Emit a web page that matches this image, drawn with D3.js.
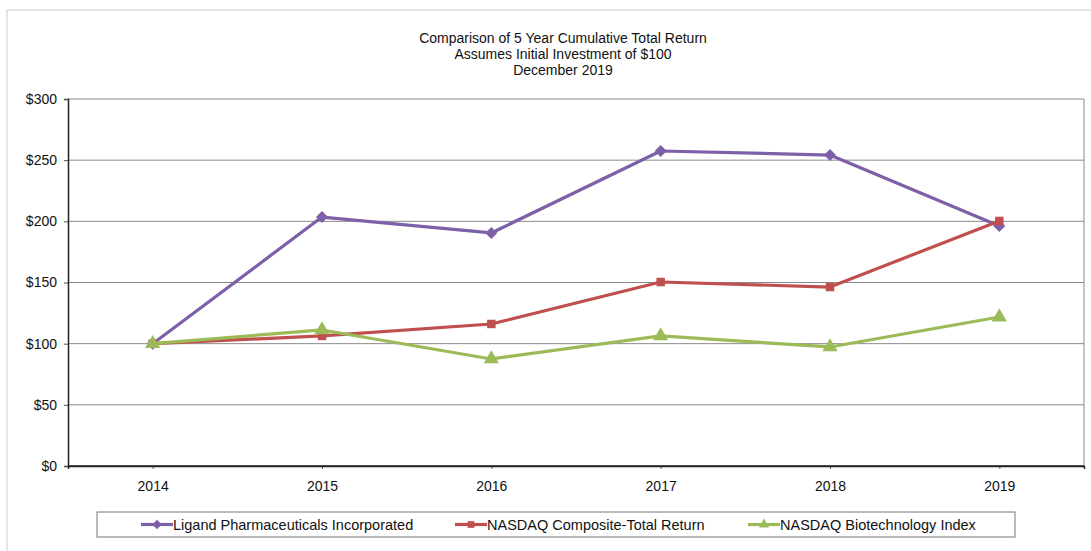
<!DOCTYPE html>
<html>
<head>
<meta charset="utf-8">
<script src="https://cdn.jsdelivr.net/npm/d3@7.9.0/dist/d3.min.js"></script>
<style>
  body { margin: 0; background: #fff; }
  svg { font-family: "Liberation Sans", Arial, sans-serif; }
</style>
</head>
<body>
<svg width="1091" height="551"></svg>
<script>
const years = ['2014', '2015', '2016', '2017', '2018', '2019'];
const ligand = [100, 203.5, 190.5, 257.5, 254.2, 196.2];
const nasdaqComposite = [100, 106.3, 116.1, 150.4, 146.3, 200.3];
const nasdaqBiotech = [100, 111.2, 87.5, 106.3, 97.3, 121.8];
const yTicks = [0, 50, 100, 150, 200, 250, 300];
const titleLines = ['Comparison of 5 Year Cumulative Total Return', 'Assumes Initial Investment of $100', 'December 2019'];

const series = [
  { name: 'Ligand Pharmaceuticals Incorporated', values: ligand, color: '#7D60A8', symbol: d3.symbolSquare, rotate: 45 },
  { name: 'NASDAQ Composite-Total Return', values: nasdaqComposite, color: '#C0504D', symbol: d3.symbolSquare, rotate: 0 },
  { name: 'NASDAQ Biotechnology Index', values: nasdaqBiotech, color: '#9BBB59', symbol: d3.symbolTriangle, rotate: 0 },
];

const svg = d3.select('svg');
const plot = { left: 68, top: 99, right: 1084, bottom: 466 };

// spreadsheet frame remnants
svg.append('line').attr('x1', 7).attr('x2', 1091).attr('y1', 10).attr('y2', 10).attr('stroke', '#ccc');
svg.append('line').attr('x1', 7).attr('x2', 7).attr('y1', 10).attr('y2', 551).attr('stroke', '#ccc');

const x = d3.scalePoint().domain(years).range([plot.left, plot.right]).padding(0.5);
const y = d3.scaleLinear().domain([0, 300]).range([plot.bottom, plot.top]);

// title
svg.append('g').selectAll('text').data(titleLines).join('text')
  .attr('x', 563).attr('y', (d, i) => 43 + i * 16)
  .attr('text-anchor', 'middle').attr('font-size', 14).attr('fill', '#111')
  .text((d) => d);

// gridlines
svg.append('g').selectAll('line').data(yTicks.filter((d) => d > 0)).join('line')
  .attr('x1', plot.left).attr('x2', plot.right)
  .attr('y1', (d) => y(d)).attr('y2', (d) => y(d))
  .attr('stroke', '#8a8a8a').attr('stroke-width', 1);

svg.append('line').attr('x1', plot.right).attr('x2', plot.right)
  .attr('y1', plot.top).attr('y2', plot.bottom).attr('stroke', '#8a8a8a');

// axes
const yAxis = svg.append('g').attr('transform', `translate(${plot.left},0)`)
  .call(d3.axisLeft(y).tickValues(yTicks).tickFormat((d) => '$' + d).tickSize(4).tickPadding(7));
const xAxis = svg.append('g').attr('transform', `translate(0,${plot.bottom})`)
  .call(d3.axisBottom(x).tickSize(3).tickPadding(12));
xAxis.append('line').attr('x1', plot.left).attr('x2', plot.right).attr('stroke', '#222').attr('stroke-width', 1.5);
[yAxis, xAxis].forEach((a) => {
  a.select('.domain').attr('stroke', '#222').attr('stroke-width', 1.5);
  a.selectAll('.tick line').attr('stroke', '#555');
  a.selectAll('text').attr('font-size', 14).attr('fill', '#111').attr('font-family', '"Liberation Sans", Arial, sans-serif');
});

// lines and markers
const line = d3.line().x((d, i) => x(years[i])).y((d) => y(d));
series.forEach((s) => {
  svg.append('path').datum(s.values)
    .attr('d', line).attr('fill', 'none')
    .attr('stroke', s.color).attr('stroke-width', 3.2).attr('stroke-linejoin', 'round');
  svg.append('g').selectAll('path').data(s.values).join('path')
    .attr('transform', (d, i) => `translate(${x(years[i])},${y(d)}) rotate(${s.rotate})`)
    .attr('d', d3.symbol().type(s.symbol).size(s.symbol === d3.symbolTriangle ? 100 : 72))
    .attr('fill', s.color);
});

// legend
const legend = svg.append('g');
legend.append('rect').attr('x', 97).attr('y', 512).attr('width', 918).attr('height', 25)
  .attr('fill', '#fff').attr('stroke', '#777');
const legendX = [141, 455, 748];
series.forEach((s, i) => {
  const g = legend.append('g').attr('transform', `translate(${legendX[i]},524.5)`);
  g.append('line').attr('x1', 0).attr('x2', 32).attr('stroke', s.color).attr('stroke-width', 3.2);
  g.append('path').attr('transform', `translate(16,0) rotate(${s.rotate})`)
    .attr('d', d3.symbol().type(s.symbol).size(45)).attr('fill', s.color);
  g.append('text').attr('x', 32).attr('y', 5).attr('font-size', 14.5).attr('fill', '#111').text(s.name);
});
</script>
</body>
</html>
